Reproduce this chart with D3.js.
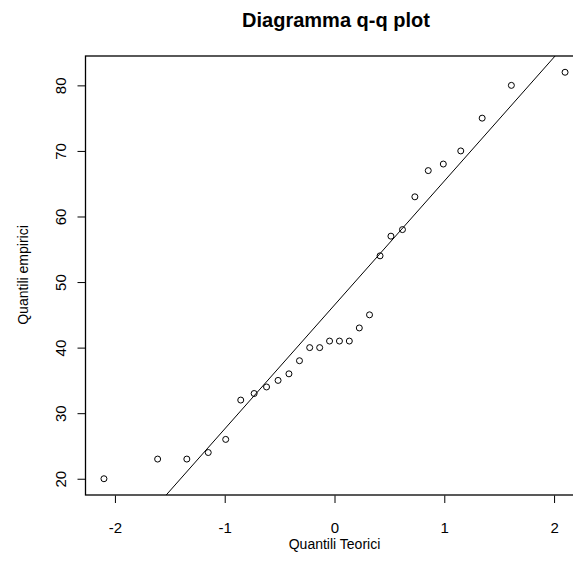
<!DOCTYPE html>
<html>
<head>
<meta charset="utf-8">
<script src="https://cdn.jsdelivr.net/npm/d3@7"></script>
<style>
  body { margin: 0; background: #fff; }
  svg text { font-family: "Liberation Sans", Arial, sans-serif; }
</style>
</head>
<body>
<svg id="chart" width="573" height="574"></svg>
<script>
// quantili empirici (dati ordinati)
var empirici = [20, 23, 23, 24, 26, 32, 33, 34, 35, 36, 38, 40, 40, 41, 41, 41, 43, 45, 54, 57, 58, 63, 67, 68, 70, 75, 80, 82]
// quantili teorici della normale
var teorici = [-2.100, -1.611, -1.345, -1.150, -0.991, -0.854, -0.732, -0.619, -0.514, -0.415, -0.319, -0.226, -0.135, -0.045,
               0.045, 0.135, 0.226, 0.319, 0.415, 0.514, 0.619, 0.732, 0.854, 0.991, 1.150, 1.345, 1.611, 2.100]
var xTicks = [-2, -1, 0, 1, 2]
var yTicks = [20, 30, 40, 50, 60, 70, 80]
var zQuartile = [-0.6745, 0.6745]

var svg = d3.select('#chart')
var pLeft = 85.5, pTop = 56, pRight = 583.5, pBottom = 495

var x = d3.scaleLinear().domain([-2.268, 2.268]).range([pLeft, pRight])
var y = d3.scaleLinear().domain([17.52, 84.48]).range([pBottom, pTop])

svg.append('defs').append('clipPath').attr('id', 'clip')
  .append('rect')
  .attr('x', pLeft).attr('y', pTop)
  .attr('width', pRight - pLeft).attr('height', pBottom - pTop)

// assi
var xAxis = svg.append('g')
  .attr('transform', 'translate(0,' + (pBottom + 0.5) + ')')
  .call(d3.axisBottom(x).tickValues(xTicks).tickSize(7.5).tickFormat(d3.format('d')))
xAxis.select('.domain').remove()
xAxis.selectAll('text')
  .style('font-size', '15px').attr('fill', '#000')
  .attr('y', 37).attr('dy', null)
  .text(function (d) { return d < 0 ? '-' + Math.abs(d) : d })

var yAxis = svg.append('g')
  .attr('transform', 'translate(' + (pLeft - 0.5) + ',0)')
  .call(d3.axisLeft(y).tickValues(yTicks).tickSize(7.5).tickFormat(d3.format('d')))
yAxis.select('.domain').remove()
yAxis.selectAll('text')
  .style('font-size', '15px').attr('fill', '#000')
  .attr('x', null).attr('dy', null)
  .attr('text-anchor', 'middle')
  .attr('transform', 'translate(-25,0) rotate(-90)')
  .attr('dominant-baseline', 'central')

svg.append('rect')
  .attr('x', pLeft).attr('y', pTop)
  .attr('width', pRight - pLeft).attr('height', pBottom - pTop)
  .attr('fill', 'none').attr('stroke', '#000').attr('stroke-width', 1.3)

// retta qqline
var q1 = d3.quantile(empirici, 0.25), q3 = d3.quantile(empirici, 0.75)
var slope = (q3 - q1) / (zQuartile[1] - zQuartile[0])
var intercept = q1 - slope * zQuartile[0]
var dom = x.domain()
svg.append('line')
  .attr('clip-path', 'url(#clip)')
  .attr('x1', x(dom[0])).attr('y1', y(intercept + slope * dom[0]))
  .attr('x2', x(dom[1])).attr('y2', y(intercept + slope * dom[1]))
  .attr('stroke', '#000').attr('stroke-width', 1)

// punti
svg.selectAll('circle.pt')
  .data(empirici)
  .enter().append('circle')
  .attr('class', 'pt')
  .attr('cx', function (d, i) { return x(teorici[i]) })
  .attr('cy', function (d) { return y(d) })
  .attr('r', 3)
  .attr('fill', 'none').attr('stroke', '#000').attr('stroke-width', 1)

// titoli
svg.append('text')
  .attr('x', 336).attr('y', 27)
  .attr('text-anchor', 'middle')
  .style('font-size', '20px').style('font-weight', 'bold')
  .text('Diagramma q-q plot')

svg.append('text')
  .attr('x', 334.5).attr('y', 549)
  .attr('text-anchor', 'middle')
  .style('font-size', '14px')
  .text('Quantili Teorici')

svg.append('text')
  .attr('transform', 'translate(28,275) rotate(-90)')
  .attr('text-anchor', 'middle')
  .style('font-size', '14px')
  .text('Quantili empirici')
</script>
</body>
</html>
